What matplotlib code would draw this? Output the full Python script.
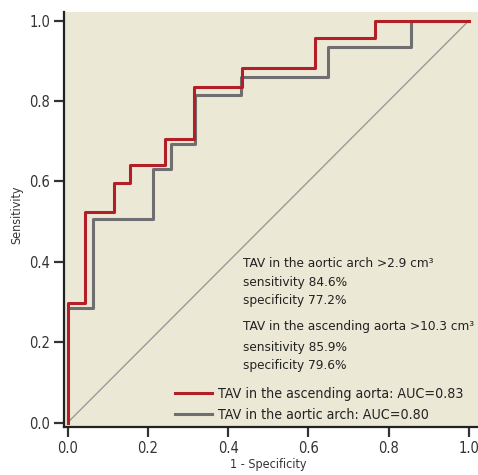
import matplotlib
matplotlib.use("Agg")
import matplotlib.pyplot as plt

plt.rcParams['font.family'] = ['DejaVu Sans']
plt.rcParams['font.stretch'] = 'condensed'

# ROC data (1 - specificity, sensitivity)
asc_x = [0.0, 0.0, 0.043, 0.043, 0.116, 0.116, 0.155, 0.155, 0.243, 0.243, 0.314, 0.314, 0.434, 0.434, 0.617, 0.617, 0.766, 0.766, 1.0]
asc_y = [0.0, 0.297, 0.297, 0.524, 0.524, 0.595, 0.595, 0.642, 0.642, 0.706, 0.706, 0.836, 0.836, 0.883, 0.883, 0.956, 0.956, 1.0, 1.0]
arch_x = [0.0, 0.0, 0.063, 0.063, 0.213, 0.213, 0.257, 0.257, 0.318, 0.318, 0.432, 0.432, 0.648, 0.648, 0.855, 0.855, 1.0]
arch_y = [0.0, 0.285, 0.285, 0.507, 0.507, 0.630, 0.630, 0.692, 0.692, 0.815, 0.815, 0.861, 0.861, 0.935, 0.935, 1.0, 1.0]
ref_x = [0.0, 1.0]
ref_y = [0.0, 1.0]

labels = ["TAV in the ascending aorta: AUC=0.83", "TAV in the aortic arch: AUC=0.80"]
block1 = ["TAV in the aortic arch >2.9 cm³", "sensitivity 84.6%", "specificity 77.2%"]
block2 = ["TAV in the ascending aorta >10.3 cm³", "sensitivity 85.9%", "specificity 79.6%"]
ticks = [0.0, 0.2, 0.4, 0.6, 0.8, 1.0]
tick_labels = ["0.0", "0.2", "0.4", "0.6", "0.8", "1.0"]

fig = plt.figure(figsize=(4.78, 4.75), dpi=100)
ax = fig.add_axes([0.134, 0.101, 0.866, 0.874])
ax.set_facecolor('#ECE8D6')

ax.plot(ref_x, ref_y, color='#9A9A9A', lw=1.0, zorder=1)
ax.plot(arch_x, arch_y, color='#6F6F71', lw=2.2, label=labels[1], zorder=2)
ax.plot(asc_x, asc_y, color='#B21F27', lw=2.2, label=labels[0], zorder=3)

ax.set_xlim(-0.009, 1.023)
ax.set_ylim(-0.011, 1.022)
ax.set_xticks(ticks)
ax.set_xticklabels(tick_labels)
ax.set_yticks(ticks)
ax.set_yticklabels(tick_labels)
for s in ['top', 'right']:
    ax.spines[s].set_visible(False)
for s in ['left', 'bottom']:
    ax.spines[s].set_linewidth(1.6)
    ax.spines[s].set_color('#222222')
ax.tick_params(direction='out', length=7, width=1.6, color='#333333', labelsize=10.5, labelcolor='#333333', pad=3)

ax.set_xlabel("1 - Specificity", fontsize=9, color='#333333')
ax.set_ylabel("Sensitivity", fontsize=9, color='#333333')
ax.xaxis.set_label_coords(0.493, -0.074)
ax.yaxis.set_label_coords(-0.099, 0.511)

h, l = ax.get_legend_handles_labels()
order = [1, 0]
leg = ax.legend([h[i] for i in order], [l[i] for i in order], loc='center left',
                bbox_to_anchor=(0.268, 0.054), frameon=False, fontsize=10.2,
                handlelength=2.6, handletextpad=0.43, labelspacing=0.45,
                borderpad=0, borderaxespad=0)
for t in leg.get_texts():
    t.set_color('#222222')

ys1 = [0.397, 0.348, 0.303]
ys2 = [0.238, 0.188, 0.143]
for txt, yy in zip(block1, ys1):
    ax.text(0.437, yy, txt, fontsize=9.7, color='#222222', va='center', ha='left')
for txt, yy in zip(block2, ys2):
    ax.text(0.437, yy, txt, fontsize=9.7, color='#222222', va='center', ha='left')

fig.savefig("out.png", dpi=100)
